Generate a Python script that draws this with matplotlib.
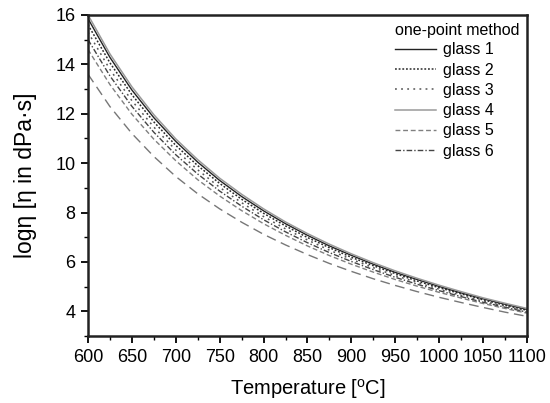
import matplotlib
matplotlib.use("Agg")
import matplotlib.pyplot as plt
from matplotlib.ticker import MultipleLocator

plt.rcParams['font.family'] = ['Liberation Sans', 'DejaVu Sans']

temperature = [600, 625, 650, 675, 700, 725, 750, 775, 800, 825, 850, 875,
               900, 925, 950, 975, 1000, 1025, 1050, 1075, 1100]

glass1 = [15.85, 14.28, 12.96, 11.84, 10.88, 10.04, 9.30, 8.65, 8.07, 7.55, 7.08,
          6.65, 6.27, 5.91, 5.58, 5.29, 5.01, 4.75, 4.51, 4.29, 4.08]
glass2 = [15.60, 14.06, 12.77, 11.67, 10.72, 9.90, 9.18, 8.54, 7.97, 7.46, 6.99,
          6.58, 6.19, 5.85, 5.53, 5.23, 4.96, 4.71, 4.47, 4.25, 4.05]
glass3 = [15.30, 13.79, 12.53, 11.46, 10.53, 9.73, 9.02, 8.40, 7.84, 7.34, 6.89,
          6.48, 6.11, 5.77, 5.45, 5.17, 4.90, 4.65, 4.42, 4.21, 4.01]
glass4 = [16.00, 14.42, 13.09, 11.96, 10.98, 10.14, 9.39, 8.74, 8.15, 7.62, 7.15,
          6.72, 6.33, 5.97, 5.64, 5.34, 5.06, 4.80, 4.55, 4.33, 4.12]
glass5 = [14.60, 13.18, 11.98, 10.97, 10.10, 9.33, 8.67, 8.08, 7.55, 7.08, 6.65,
          6.26, 5.91, 5.59, 5.29, 5.02, 4.77, 4.54, 4.32, 4.12, 3.93]
glass6 = [15.00, 13.53, 12.30, 11.25, 10.34, 9.56, 8.87, 8.26, 7.71, 7.22, 6.78,
          6.38, 6.02, 5.69, 5.38, 5.10, 4.84, 4.60, 4.37, 4.17, 3.97]
extra_curve = [13.60, 12.29, 11.20, 10.27, 9.46, 8.76, 8.15, 7.61, 7.12, 6.69, 6.30,
               5.94, 5.62, 5.32, 5.05, 4.80, 4.57, 4.36, 4.16, 3.97, 3.80]

legend_title = "one-point method"
labels = ["glass 1", "glass 2", "glass 3", "glass 4", "glass 5", "glass 6"]
x_ticks = [600, 650, 700, 750, 800, 850, 900, 950, 1000, 1050, 1100]
y_ticks = [4, 6, 8, 10, 12, 14, 16]

fig = plt.figure(figsize=(5.5, 4.03), dpi=100)
ax = fig.add_axes([0.160, 0.166, 0.798, 0.797])

series = [glass1, glass2, glass3, glass4, glass5, glass6]
styles = [
    dict(color="#222222", linestyle="-", lw=1.0),
    dict(color="#2a2a2a", linestyle=(0, (1.2, 1.2)), lw=1.1),
    dict(color="#555555", linestyle=(0, (1.2, 2.8)), lw=1.1),
    dict(color="#9a9a9a", linestyle="-", lw=1.1),
    dict(color="#808080", linestyle=(0, (3.5, 2.0)), lw=1.0),
    dict(color="#444444", linestyle=(0, (4.0, 1.5, 1.0, 1.5)), lw=1.0),
]
for ys, lab, st in zip(series, labels, styles):
    ax.plot(temperature, ys, label=lab, **st)
ax.plot(temperature, extra_curve, color="#777777", linestyle=(0, (7, 4)), lw=1.0)

ax.set_xlim(600, 1100)
ax.set_ylim(3, 16)
ax.set_xticks(x_ticks)
ax.set_yticks(y_ticks)
ax.xaxis.set_minor_locator(MultipleLocator(25))
ax.yaxis.set_minor_locator(MultipleLocator(1))
ax.tick_params(which="major", direction="out", length=5, width=1.3, labelsize=13,
               top=False, right=False, pad=4)
ax.tick_params(which="minor", direction="out", length=3, width=1.0,
               top=False, right=False)
for sp in ax.spines.values():
    sp.set_linewidth(1.8)
    sp.set_color("#222222")

ax.set_xlabel(r"Temperature [$\mathregular{^{o}}$C]", fontsize=14.5, labelpad=8)
ax.set_ylabel("logη [η in dPa·s]", fontsize=16.5, labelpad=13)

leg = ax.legend(title=legend_title, loc="upper right", bbox_to_anchor=(1.004, 1.004),
                frameon=False, fontsize=11.5, title_fontsize=11.5,
                handlelength=2.6, handletextpad=0.45, labelspacing=0.33,
                borderaxespad=0.2)
leg._legend_box.align = "left"
leg._legend_box.sep = 3

fig.savefig("out.png", dpi=100)
